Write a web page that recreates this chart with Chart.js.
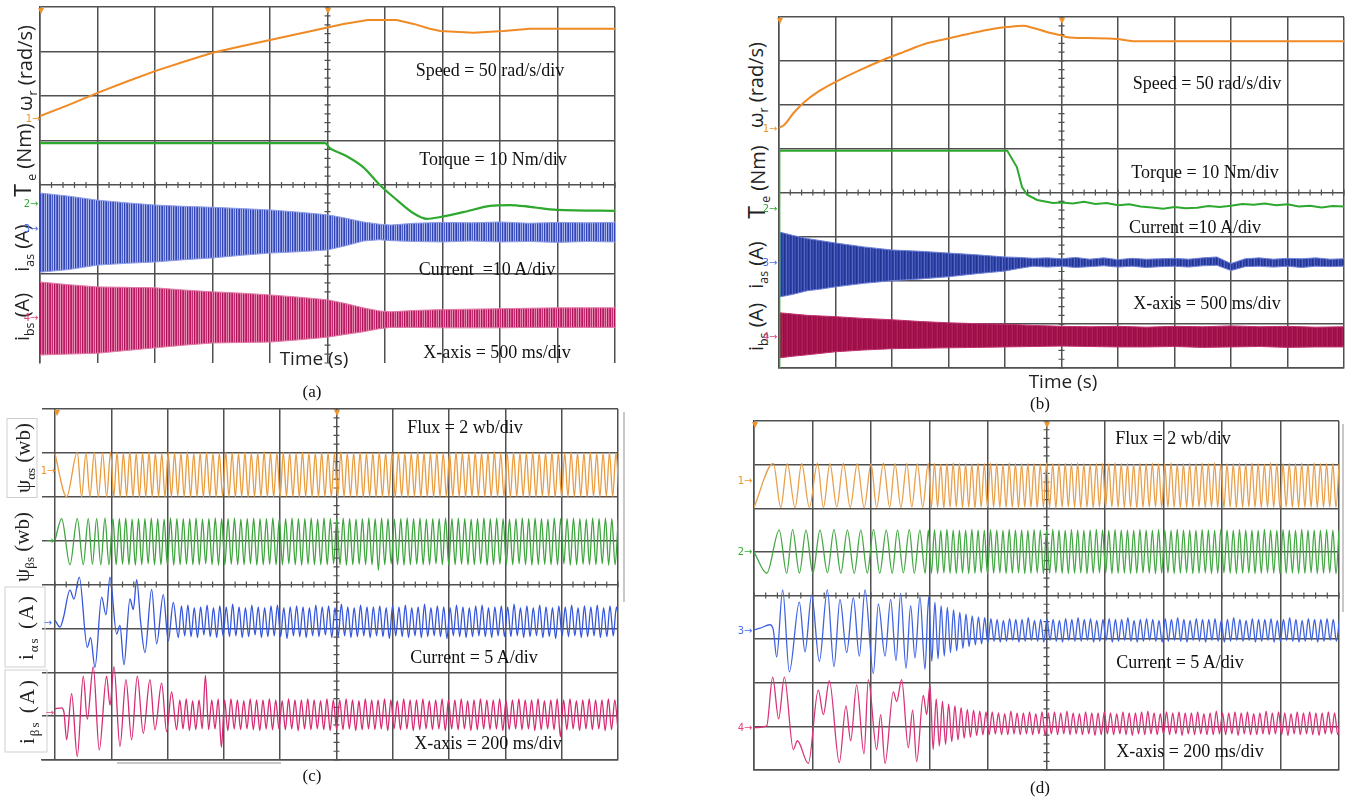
<!DOCTYPE html>
<html>
<head>
<meta charset="utf-8">
<title>Drive waveforms</title>
<script src="https://cdn.jsdelivr.net/npm/chart.js@4.4.1/dist/chart.umd.min.js"></script>
<style>
  body { margin: 0; background: #fff; }
  #page { position: relative; width: 1352px; height: 802px; overflow: hidden; background: #fff; }
  canvas { position: absolute; }
  .note { position: absolute; transform: translate(-50%, -50%); font: 18px 'Liberation Serif', serif; color: #111; white-space: nowrap; }
  .cap { position: absolute; transform: translate(-50%, -50%); font: 17px 'Liberation Serif', serif; color: #111; }
  .time { position: absolute; transform: translate(-50%, -50%); font: 19px 'Open Sans', sans-serif; color: #222; white-space: nowrap; }
  .ylab { position: absolute; transform: translate(-50%, -50%) rotate(-90deg); white-space: nowrap; font: 20px 'Open Sans', sans-serif; color: #222; }
  .ylab sub { font-size: 0.62em; }
  .ylab .big { font-size: 1.15em; }
  .serif { font: 21px 'Liberation Serif', serif; text-align: center; }
  .box { border: 1px solid #cfcfcf; box-sizing: border-box; }
  .mark { position: absolute; transform: translate(-50%, -50%); font: 10px 'DejaVu Sans', sans-serif; white-space: nowrap; }
  .trig { position: absolute; transform: translate(-50%, -50%); font: 12px 'DejaVu Sans', sans-serif; color: #f0932b; }
  .bar { position: absolute; background: #c8c8c8; }
</style>
</head>
<body>
<div id="page">
  <canvas id="cA" width="583" height="364" style="left:36px;top:3px"></canvas>
  <canvas id="cB" width="573" height="359" style="left:775px;top:13px"></canvas>
  <canvas id="cC" width="584" height="359" style="left:38px;top:405px"></canvas>
  <canvas id="cD" width="593" height="357" style="left:750px;top:417px"></canvas>

  <!-- screen frame remnants -->
  <div class="bar" style="left:623px;top:412px;width:2px;height:190px"></div>
  <div class="bar" style="left:1342px;top:424px;width:2px;height:188px"></div>
  <div class="bar" style="left:117px;top:762px;width:164px;height:2px"></div>

  <!-- panel (a) -->
  <div class="ylab" style="left:26px;top:68px">ω<sub>r</sub> (rad/s)</div>
  <div class="ylab" style="left:23px;top:160px"><span class="big">T</span><sub> e</sub> (Nm)</div>
  <div class="ylab" style="left:23px;top:248px">i<sub>as</sub> (A)</div>
  <div class="ylab" style="left:23px;top:317px">i<sub>bs</sub> (A)</div>
  <div class="note" style="left:490px;top:70px">Speed = 50 rad/s/div</div>
  <div class="note" style="left:493px;top:159px">Torque = 10 Nm/div</div>
  <div class="note" style="left:487px;top:269px">Current &nbsp;=10 A/div</div>
  <div class="note" style="left:497px;top:352px">X-axis = 500 ms/div</div>
  <div class="time" style="left:314px;top:358px">Time (s)</div>
  <div class="cap" style="left:312px;top:392px">(a)</div>

  <!-- panel (b) -->
  <div class="ylab" style="left:757px;top:85px">ω<sub>r</sub> (rad/s)</div>
  <div class="ylab" style="left:757px;top:182px"><span class="big">T</span><sub> e</sub> (Nm)</div>
  <div class="ylab" style="left:757px;top:265px">i<sub>as</sub> (A)</div>
  <div class="ylab" style="left:757px;top:327px">i<sub>bs</sub> (A)</div>
  <div class="note" style="left:1207px;top:83px">Speed = 50 rad/s/div</div>
  <div class="note" style="left:1205px;top:172px">Torque = 10 Nm/div</div>
  <div class="note" style="left:1195px;top:227px">Current =10 A/div</div>
  <div class="note" style="left:1207px;top:303px">X-axis = 500 ms/div</div>
  <div class="time" style="left:1063px;top:381px">Time (s)</div>
  <div class="cap" style="left:1040px;top:404px">(b)</div>

  <!-- panel (c) -->
  <div class="ylab serif box" style="left:22px;top:458px;width:80px;height:31px;line-height:31px">ψ<sub>αs</sub> (wb)</div>
  <div class="ylab serif" style="left:22px;top:547px;width:80px;height:31px;line-height:31px">ψ<sub>βs</sub> (wb)</div>
  <div class="ylab serif box" style="left:25px;top:627px;width:81px;height:41px;line-height:41px;letter-spacing:2px">i<sub>αs</sub> (A)</div>
  <div class="ylab serif box" style="left:26px;top:711px;width:83px;height:43px;line-height:43px;letter-spacing:2px">i<sub>βs</sub> (A)</div>
  <div class="note" style="left:465px;top:427px">Flux = 2 wb/div</div>
  <div class="note" style="left:474px;top:657px">Current = 5 A/div</div>
  <div class="note" style="left:488px;top:743px">X-axis = 200 ms/div</div>
  <div class="cap" style="left:312px;top:776px">(c)</div>

  <!-- panel (d) -->
  <div class="note" style="left:1173px;top:438px">Flux = 2 wb/div</div>
  <div class="note" style="left:1180px;top:662px">Current = 5 A/div</div>
  <div class="note" style="left:1190px;top:751px">X-axis = 200 ms/div</div>
  <div class="cap" style="left:1040px;top:788px">(d)</div>

  <!-- channel reference marks and trigger marks -->
  <div class="mark" style="left:33px;top:118px;color:#f0932b">1→</div>
  <div class="mark" style="left:31px;top:203px;color:#33aa33">2→</div>
  <div class="mark" style="left:31px;top:228px;color:#4a6cf0">3→</div>
  <div class="mark" style="left:31px;top:317px;color:#e0447f">4→</div>
  <div class="mark" style="left:770px;top:128px;color:#f0932b">1→</div>
  <div class="mark" style="left:770px;top:208px;color:#33aa33">2→</div>
  <div class="mark" style="left:770px;top:262px;color:#4a6cf0">3→</div>
  <div class="mark" style="left:770px;top:336px;color:#e0447f">4→</div>
  <div class="mark" style="left:48px;top:470px;color:#f0932b">1→</div>
  <div class="mark" style="left:50px;top:540px;color:#33aa33">→</div>
  <div class="mark" style="left:48px;top:622px;color:#4a6cf0">→</div>
  <div class="mark" style="left:50px;top:712px;color:#e0447f">→</div>
  <div class="mark" style="left:745px;top:480px;color:#f0932b">1→</div>
  <div class="mark" style="left:745px;top:551px;color:#33aa33">2→</div>
  <div class="mark" style="left:745px;top:630px;color:#4a6cf0">3→</div>
  <div class="mark" style="left:745px;top:727px;color:#e0447f">4→</div>
  <div class="trig" style="left:41px;top:10px">▾</div>
  <div class="trig" style="left:328px;top:10px">▾</div>
  <div class="trig" style="left:780px;top:20px">▾</div>
  <div class="trig" style="left:1062px;top:20px">▾</div>
  <div class="trig" style="left:57px;top:412px">▾</div>
  <div class="trig" style="left:337px;top:412px">▾</div>
  <div class="trig" style="left:755px;top:424px">▾</div>
  <div class="trig" style="left:1047px;top:424px">▾</div>
</div>

<script>
// ---------- (a) start-up and load step, 500 ms/div ----------
const speedA_t = [0, 0.25, 0.5, 0.75, 1.0, 1.25, 1.5, 1.75, 2.0, 2.25, 2.52, 2.64, 2.85, 3.1, 3.25, 3.39, 3.48, 3.77, 4.03, 4.26, 5.0];
const speedA   = [0, 12.5, 26, 38.5, 50.5, 61, 71, 78.5, 85.5, 92.5, 100, 103.5, 108, 108, 103.5, 98, 95.5, 93.5, 95.5, 98, 98];      // rad/s

const torqueA_t = [0, 2.48, 2.52, 2.65, 2.81, 2.955, 3.105, 3.245, 3.365, 3.48, 3.68, 3.915, 4.085, 4.26, 4.495, 5.0];
const torqueA   = [13.4, 13.4, 12.3, 10.7, 8.0, 4.0, 0.6, -2.3, -3.6, -3.2, -2.1, -0.7, -0.5, -0.9, -1.6, -1.8];                   // Nm

// phase current envelopes (A)
const envA_t    = [0, 0.25, 0.5, 0.75, 1.0, 1.25, 1.5, 1.75, 2.0, 2.25, 2.5, 2.65, 2.81, 2.95, 3.05, 3.25, 3.5, 3.75, 4.0, 4.25, 4.5, 4.75, 5.0];
const iasA_hi   = [7.9, 7.2, 6.3, 5.7, 5.2, 4.9, 4.7, 4.4, 4.1, 3.6, 3.0, 2.3, 1.4, 0.9, 0.7, 1.1, 1.3, 1.2, 1.4, 1.1, 1.3, 1.2, 1.3];
const iasA_lo   = [-9.9, -9.3, -8.3, -7.9, -7.6, -7.1, -6.7, -6.1, -5.6, -5.3, -4.9, -4.0, -2.9, -2.6, -2.8, -3.0, -3.1, -2.9, -3.1, -3.0, -3.2, -3.0, -3.1];
const ibsA_hi   = [7.9, 7.3, 6.8, 6.7, 6.6, 6.1, 5.7, 5.4, 5.0, 4.5, 3.9, 3.1, 2.1, 1.4, 1.2, 1.5, 1.7, 1.8, 1.9, 2.0, 2.1, 2.1, 2.1];
const ibsA_lo   = [-8.5, -8.3, -8.1, -7.5, -6.9, -6.3, -5.8, -5.7, -5.6, -5.1, -4.5, -3.9, -3.3, -2.6, -2.3, -2.3, -2.4, -2.4, -2.4, -2.3, -2.3, -2.3, -2.3];

// ---------- (b) start-up and load step, 500 ms/div ----------
const speedB_t = [0, 0.05, 0.125, 0.215, 0.36, 0.515, 0.715, 0.92, 1.1, 1.31, 1.515, 1.72, 1.9, 2.02, 2.16, 2.25, 2.37, 2.485, 2.55, 2.735, 2.99, 3.135, 5.0];
const speedB   = [0, 4, 16.5, 28.5, 42.5, 53.5, 66, 77.5, 86.5, 96.5, 102.5, 108.5, 113, 115, 116.5, 114, 109.5, 106, 103.5, 102.5, 101.5, 99, 99];

// the torque trace enters from below the screen at switch-on
const torqueB_t = [0, 0.003, 2.02, 2.105, 2.15, 2.195, 2.285, 2.425, 2.5, 2.6, 2.7, 2.8, 2.9, 3.0, 3.1, 3.2, 3.3, 3.4, 3.5, 3.6, 3.7, 3.8, 3.9, 4.0, 4.1, 4.2, 4.3, 4.4, 4.5, 4.6, 4.7, 4.8, 4.9, 5.0];
const torqueB   = [-40, 13, 13, 9.3, 4.8, 3.0, 1.8, 1.1, 1.2, 1.0, 1.4, 0.9, 1.1, 0.6, 0.8, 0.3, 0.1, -0.2, 0.2, -0.1, 0.0, 0.4, 0.2, 0.5, 0.9, 0.7, 1.0, 0.6, 0.8, 0.3, 0.5, 0.1, 0.4, 0.3];

const envBa_t  = [0, 0.05, 0.125, 0.25, 0.375, 0.5, 0.75, 1.0, 1.25, 1.5, 1.75, 2.0, 2.125, 2.25, 2.375, 2.5, 2.625, 2.75, 2.875, 3.0, 3.125, 3.25, 3.375, 3.5, 3.625, 3.75, 3.875, 4.0, 4.125, 4.25, 4.375, 4.5, 4.625, 4.75, 4.875, 5.0];
const iasB_hi  = [6.8, 6.5, 6.0, 5.3, 4.8, 4.3, 3.4, 2.7, 2.4, 2.0, 1.6, 1.1, 1.0, 0.8, 0.9, 0.7, 1.0, 0.6, 0.9, 0.5, 0.8, 0.6, 0.7, 0.8, 0.6, 0.9, 1.1, -0.4, 0.7, 0.9, 0.6, 0.8, 0.7, 0.9, 0.6, 0.7];
const iasB_lo  = [-8.0, -7.8, -7.4, -6.6, -6.2, -5.7, -4.9, -4.3, -3.9, -3.4, -2.7, -2.1, -1.5, -1.0, -1.2, -1.0, -1.3, -1.1, -0.9, -1.2, -1.0, -1.3, -1.1, -1.0, -1.2, -0.9, -0.8, -2.0, -1.1, -1.0, -1.2, -1.0, -1.3, -1.0, -1.1, -1.0];

const envBb_t  = [0, 0.125, 0.25, 0.5, 0.75, 1.0, 1.25, 1.5, 1.75, 2.0, 2.25, 2.5, 2.75, 3.0, 3.25, 3.5, 3.75, 4.0, 4.25, 4.5, 4.75, 5.0];
const ibsB_hi  = [5.5, 5.2, 4.9, 4.6, 4.2, 3.9, 3.5, 3.2, 3.0, 2.9, 2.6, 2.4, 2.3, 2.4, 2.2, 2.4, 2.3, 2.5, 2.3, 2.4, 2.2, 2.3];
const ibsB_lo  = [-4.8, -4.4, -4.1, -3.4, -3.0, -2.7, -2.6, -2.5, -2.4, -2.3, -2.2, -2.1, -2.2, -2.3, -2.3, -2.2, -2.4, -2.3, -2.2, -2.4, -2.3, -2.3];

// ---------- (c) flux and current, 200 ms/div ----------
// start-up: turning points (s, value); steady state: one value per half cycle
const stepC = 0.01136;
const psiAlphaC_t = [0, 0.0415, 0.0793, 0.0947, 0.1101, 0.1243, 0.1397, 0.1539, 0.1693, 0.1835, 0.1977];
const psiAlphaC_v = [0.95, -1.0, 1.02, -1.0, 1.0, -0.98, 1.02, -1.0, 1.0, -1.0, 1.02];
const psiAlphaC_tail = [
  -1.0,
  1.02,-1.0,1.0,-0.98,1.04,-1.0,0.98,-1.02,1.0,-1.0,
  1.03,-0.99,1.0,-1.0,0.99,-1.02,1.02,-1.0,1.0,-0.98,
  1.0,-1.0,1.04,-1.01,0.98,-1.0,1.0,-1.02,1.02,-1.0,
  0.99,-1.0,1.0,-0.98,1.03,-1.0,1.0,-1.01,0.98,-1.0,
  1.02,-1.02,1.0,-1.0,1.0,-0.99,1.04,-1.0,0.99,-1.02,
  1.0,-1.0,1.02,-0.98,1.0,-1.0,0.98,-1.02,1.03,-1.0,
  1.0,-1.0,1.0,-1.01,1.02,-0.99,1.0,-1.0,0.99,-1.02,
  1.04,-1.0,1.0,-0.98,1.0,-1.0,1.02,-1.02,0.98,-1.0,
  1.0,-1.0,1.03,-1.0,1.0,-0.99,1.0,-1.02,1.02,-1.0,
  0.99,-1.0,1.0,-0.98,1.04,-1.01,1.0,-1.0,0.98,-1.02,
  1.02,-1.0,1.0,-1.0,1.0,-0.99,1.03,-1.0,1.0,-1.02,
  0.98,-1.0,1.02,-0.98,1.0,-1.0,1.0,-1.02,1.04,-1.0,
  1.0,-1.0,0.99,-1.01,1.02,-0.99,1.0,-1.0,1.0,-1.02,
  1.03,-1.0,1.0,-0.98,1.0,-1.0,1.02,-1.02,0.98,-1.0,
  1.0,-1.0,1.04,-1.0,1.0,-0.99,1.0,-1.02,1.02,-1.0,
  0.99,-1.0,1.0,-0.98,1.03,-1.01,1.0,-1.0
];
const psiBetaC_t = [0, 0.0238, 0.0533, 0.0793, 0.1006, 0.1184, 0.1332, 0.1481, 0.1628, 0.1776, 0.1918, 0.206];
const psiBetaC_v = [0, 1.0, -1.1, 1.0, -1.1, 1.0, -1.08, 1.0, -1.1, 1.02, -1.1, 1.0];
const psiBetaC_tail = [
  -1.1,1.0,-1.08,1.02,-1.1,0.98,-1.12,1.0,-1.1,1.0,
  -1.06,1.02,-1.1,1.0,-1.1,0.98,-1.1,1.04,-1.12,1.0,
  -1.1,1.0,-1.08,1.0,-1.1,1.02,-1.1,0.98,-1.06,1.0,
  -1.1,1.04,-1.12,1.0,-1.1,1.0,-1.08,1.02,-1.1,0.98,
  -1.1,1.0,-1.06,1.02,-1.12,1.0,-1.1,1.0,-1.08,1.04,
  -1.1,0.98,-1.1,1.0,-1.06,1.02,-1.1,1.0,-1.12,1.0,
  -1.08,1.02,-1.1,0.98,-1.1,1.04,-1.1,1.0,-1.06,1.0,
  -1.1,1.02,-1.12,1.0,-1.1,0.98,-1.08,1.0,-1.1,1.04,
  -1.1,1.0,-1.35,1.02,-1.1,1.0,-1.06,0.98,-1.1,1.0,
  -1.12,1.04,-1.1,1.0,-1.08,1.02,-1.1,0.98,-1.1,1.0,
  -1.06,1.0,-1.1,1.04,-1.12,1.0,-1.1,1.02,-1.08,1.0,
  -1.1,0.98,-1.1,1.0,-1.06,1.04,-1.12,1.0,-1.1,1.02,
  -1.08,1.0,-1.1,0.98,-1.1,1.0,-1.06,1.04,-1.1,1.0,
  -1.12,1.02,-1.1,1.0,-1.08,0.98,-1.1,1.04,-1.1,1.0,
  -1.06,1.0,-1.12,1.02,-1.1,1.0,-1.08,0.98,-1.1,1.04,
  -1.1,1.0,-1.06,1.02,-1.12,1.0,-1.1,1.0
];
const iAlphaC_t = [0, 0.0178, 0.0296, 0.0533, 0.0675, 0.0864, 0.1149, 0.1267, 0.1421, 0.1658, 0.1812, 0.1954, 0.2191, 0.2309, 0.2451, 0.2664, 0.2783, 0.2901, 0.3043, 0.3197, 0.3434, 0.3612, 0.3848, 0.4026, 0.4204, 0.4381];
const iAlphaC_v = [0.2, -0.6, 0.4, 3.6, 2.6, 5.1, -2.9, -1.8, -5.2, 2.8, 0.8, 5.1, -1.4, -0.4, -4.9, 2.6, 1.4, 4.8, 0.0, -3.5, 3.7, -2.5, 3.1, -2.2, 2.2, -1.8];
const iAlphaC_tail = [
  1.8,-1.6,1.9,-1.7,1.6,-1.8,1.7,-1.5,1.9,
  -1.7,1.6,-1.8,1.8,-1.6,1.7,-1.7,2.0,-1.6,1.7,
  -1.8,1.6,-1.7,1.9,-1.5,1.7,-1.8,1.6,-1.7,1.8,
  -1.6,1.9,-1.7,1.6,-1.9,1.7,-1.6,1.8,-1.7,1.7,
  -1.8,1.6,-1.6,1.9,-1.7,1.7,-1.5,1.8,-1.8,1.6,
  -1.7,2.0,-1.6,1.7,-1.8,1.6,-1.7,1.9,-1.6,1.7,
  -1.8,1.7,-1.6,1.8,-1.7,1.6,-1.9,1.8,-1.6,1.7,
  -1.7,1.9,-1.8,1.6,-1.6,1.7,-1.8,2.0,-1.7,1.6,
  -1.6,1.8,-1.7,1.7,-1.9,1.6,-1.6,1.9,-1.7,1.7,
  -1.8,1.6,-1.7,1.8,-1.6,1.9,-1.7,1.6,-1.8,1.7,
  -1.6,1.8,-1.7,1.7,-1.7,2.0,-1.6,1.6,-1.8,1.8,
  -1.7,1.6,-1.6,1.9,-1.8,1.7,-1.7,1.6,-1.9,1.8,
  -1.6,1.7,-1.7,1.9,-1.6,1.6,-1.8,1.8,-1.7,1.7,
  -1.6,1.9,-1.8,1.6,-1.7,1.8,-1.6,1.7,-1.7
];
const iBetaC_t = [0, 0.0237, 0.032, 0.0415, 0.0592, 0.0793, 0.1006, 0.1149, 0.136, 0.1574, 0.1835, 0.1954, 0.2096, 0.2309, 0.2522, 0.2723, 0.2925, 0.3138, 0.3375, 0.3552, 0.3789, 0.3967, 0.4144, 0.4322];
const iBetaC_v = [0.6, 0.7, 0.2, -2.95, 2.3, -4.85, 4.3, -0.6, 5.4, -4.1, 4.3, 1.0, 5.4, -3.7, 3.9, -2.95, 4.3, -2.2, 3.9, -1.8, 3.5, -2.0, 2.5, -1.8];
const iBetaC_tail = [
  1.6,-1.7,1.7,-1.9,1.5,-1.8,1.6,-1.7,4.4,
  -1.8,1.6,-1.7,1.7,-3.8,1.6,-1.9,1.7,-1.7,1.6,
  -1.8,1.5,-1.7,1.7,-1.8,1.6,-1.9,1.6,-1.7,1.7,
  -1.8,1.6,-1.7,1.5,-1.8,1.7,-1.7,1.6,-1.9,1.6,
  -1.7,1.7,-1.8,1.6,-1.7,1.5,-1.8,1.7,-1.9,1.6,
  -1.7,1.6,-1.8,1.7,-1.7,1.6,-1.9,1.5,-1.8,1.7,
  -1.7,1.6,-1.8,1.6,-1.7,1.7,-1.9,1.6,-1.7,1.5,
  -1.8,1.7,-1.7,1.6,-1.9,1.6,-1.8,1.7,-1.7,1.5,
  -1.8,1.6,-1.7,1.7,-1.9,1.6,-1.7,1.6,-1.8,1.7,
  -1.7,1.5,-1.9,1.6,-1.8,1.7,-1.7,1.6,-1.8,1.6,
  -1.7,1.7,-1.9,1.5,-1.8,1.6,-1.7,1.7,-1.8,1.6,
  -1.7,1.6,-1.9,1.7,-1.8,1.5,-1.7,1.6,-1.8,1.7,
  -2.6,1.6,-1.8,1.7,-1.7,1.5,-1.9,1.6,-1.7,1.7,
  -1.8,1.6,-1.7,1.6,-1.9,1.7,-1.8,1.6,-1.8
];

// ---------- (d) flux and current, 200 ms/div ----------
const stepD = 0.01064;
const psiAlphaD_t = [0, 0.066, 0.0915, 0.1138, 0.1404, 0.1628, 0.1894, 0.2171, 0.2373, 0.2596, 0.283, 0.3054, 0.3288, 0.3532, 0.3767, 0.4001, 0.4192, 0.4426, 0.4639, 0.482, 0.5022, 0.5224, 0.5394, 0.5586, 0.5767, 0.5958];
const psiAlphaD_v = [-1.0, 1.02, -1.0, 1.0, -1.02, 1.0, -1.0, 1.03, -1.0, 1.0, -0.98, 1.02, -1.0, 1.0, -1.02, 1.0, -1.0, 1.03, -1.0, 1.0, -1.0, 1.02, -0.98, 1.0, -1.0, 1.02];
const psiAlphaD_tail = [
  -1.0,1.02,-1.0,0.98,-1.03,1.0,-1.0,1.04,-0.98,1.0,
  -1.02,1.0,-1.0,0.99,-1.04,1.02,-1.0,1.0,-0.98,1.03,
  -1.0,1.0,-1.02,0.98,-1.0,1.04,-1.0,1.0,-1.03,1.0,
  -0.99,1.02,-1.0,1.0,-1.02,0.98,-1.0,1.03,-1.0,1.0,
  -1.04,1.0,-1.0,1.02,-0.98,1.0,-1.0,1.04,-1.02,1.0,
  -1.0,0.98,-1.03,1.0,-1.0,1.02,-1.0,1.0,-0.98,1.04,
  -1.0,1.0,-1.02,1.0,-1.0,0.98,-1.04,1.02,-1.0,1.0,
  -1.0,1.03,-0.98,1.0,-1.02,1.0,-1.0,1.04,-1.0,0.98,
  -1.03,1.0,-1.0,1.02,-1.0,1.0,-0.98,1.03,-1.02,1.0,
  -1.0,1.04,-1.0,0.98,-1.02,1.0,-1.0,1.0,-1.04,1.02,
  -1.0,1.0,-0.98,1.03,-1.0,1.0,-1.02,0.98,-1.0,1.04,
  -1.0,1.0,-1.03,1.0,-0.98,1.02,-1.0,1.0,-1.02,1.03,
  -1.0,0.98,-1.0,1.04,-1.02,1.0,-1.0,1.0,-0.99,1.02,
  -1.0,1.0
];
const psiBetaD_t = [0, 0.0436, 0.0862, 0.1117, 0.1319, 0.1553, 0.1777, 0.2011, 0.2256, 0.2511, 0.2734, 0.2969, 0.3192, 0.3426, 0.365, 0.3873, 0.4086, 0.4299, 0.4522, 0.4724, 0.4905, 0.5107, 0.5309, 0.548, 0.5671, 0.5852];
const psiBetaD_v = [0, -0.98, 1.0, -0.98, 1.02, -0.97, 1.0, -0.98, 1.0, -0.96, 1.02, -0.98, 1.0, -0.98, 1.0, -0.97, 1.02, -0.98, 1.0, -0.98, 1.0, -0.96, 1.02, -0.98, 1.0, -0.98];
const psiBetaD_tail = [
  1.0,-0.98,1.02,-1.0,0.98,-0.96,1.03,-0.98,1.0,-1.0,
  0.98,-0.97,1.0,-1.0,1.03,-0.98,1.0,-0.96,0.99,-1.0,
  1.02,-0.98,1.0,-0.97,0.98,-1.0,1.03,-0.98,1.0,-0.96,
  1.0,-1.0,0.98,-0.98,1.02,-0.97,1.0,-1.0,0.99,-0.98,
  1.03,-0.96,1.0,-0.98,0.98,-1.0,1.02,-0.98,1.0,-0.97,
  0.99,-1.0,1.0,-0.98,1.03,-0.96,1.0,-0.98,0.98,-1.0,
  1.02,-0.98,1.0,-0.97,1.0,-1.0,0.98,-0.98,1.03,-0.96,
  1.0,-0.98,0.99,-1.0,1.02,-0.98,1.0,-0.97,0.98,-1.0,
  1.03,-0.98,1.0,-0.96,1.0,-1.0,0.98,-0.98,1.02,-0.97,
  1.0,-1.0,0.99,-0.98,1.03,-0.96,1.0,-0.98,0.98,-1.0,
  1.02,-0.98,1.0,-0.97,1.0,-1.0,0.98,-0.98,1.03,-0.96,
  1.0,-0.98,0.99,-1.0,1.02,-0.98,1.0,-0.97,0.98,-1.0,
  1.03,-0.98,1.0,-0.96,1.0,-1.0,0.98,-0.98,1.02,-0.97,
  1.0,-1.0,1.0
];
const iAlphaD_t = [0, 0.0205, 0.0547, 0.066, 0.0775, 0.098, 0.1208, 0.155, 0.1744, 0.1972, 0.2234, 0.2507, 0.2735, 0.294, 0.3168, 0.3396, 0.3601, 0.3795, 0.408, 0.4251, 0.4479, 0.4672, 0.4855, 0.5014, 0.5197, 0.5356, 0.5504, 0.5675, 0.5846, 0.5972];
const iAlphaD_v = [0, 0.2, 0.6, 0.0, -3.1, 4.6, -4.8, 3.2, -2.5, 4.0, -3.6, 4.6, -4.2, 3.5, -2.6, 3.7, -3.0, 4.6, -5.0, 3.0, -3.0, 3.5, -3.5, 4.2, -4.4, 2.8, -3.2, 3.8, -4.5, 3.8];
const iAlphaD_tail = [
  -3.6,3.2,-3.3,2.8,-3.0,2.6,-2.6,2.3,-2.4,2.0,
  -2.1,1.8,-1.9,1.6,-1.7,1.5,-1.6,1.4,-1.5,
  1.3,-1.3,1.2,-1.4,1.1,-1.3,1.3,-1.2,1.2,-1.4,
  1.2,-1.3,1.4,-1.2,1.1,-1.3,1.2,-1.4,1.3,-1.2,
  1.2,-1.3,1.1,-1.4,1.3,-1.2,1.2,-1.3,1.4,-1.3,
  1.2,-1.2,1.3,-1.4,1.1,-1.3,1.2,-1.2,1.3,-1.4,
  1.2,-1.3,1.2,-1.2,1.4,-1.3,1.1,-1.4,1.2,-1.3,
  1.3,-1.2,1.2,-1.3,1.1,-1.4,1.3,-1.3,1.2,-1.2,
  1.4,-1.3,1.2,-1.4,1.1,-1.2,1.3,-1.3,1.2,-1.4,
  1.2,-1.2,1.3,-1.3,1.1,-1.4,1.2,-1.3,1.4,-1.2,
  1.2,-1.3,1.1,-1.2,1.3,-1.4,1.2,-1.3,1.2,-1.2,
  1.3,-1.4,1.1,-1.3,1.2,-1.2,1.4,-1.3,1.2,-1.4,
  1.1,-1.3,1.3,-1.2,1.2,-1.4,1.2,-1.3,1.3,-1.2,
  1.2,-1.3,1.2
];
const iBetaD_t = [0, 0.0433, 0.0638, 0.0843, 0.1037, 0.1345, 0.1481, 0.1857, 0.2199, 0.237, 0.2575, 0.2917, 0.3145, 0.3305, 0.351, 0.3761, 0.3909, 0.4194, 0.4331, 0.4479, 0.4764, 0.4877, 0.5048, 0.5276, 0.5424, 0.5561, 0.5789, 0.5903, 0.6017];
const iBetaD_v = [-0.5, -0.3, 5.3, 0.5, 5.3, -3.0, -2.0, -4.6, 3.8, 1.0, 4.9, -4.5, 2.0, -2.0, 4.4, -3.5, 5.0, -3.0, 1.0, -4.6, 3.6, 2.5, 5.0, -2.8, 1.5, -4.4, 3.2, 1.0, 4.4];
const iBetaD_tail = [
  -3.0,2.8,-2.6,2.5,-2.4,2.2,-2.1,2.0,-1.9,1.8,
  -1.7,1.6,-1.6,1.5,-1.4,1.4,-1.3,1.3,-1.3,
  1.3,-1.2,1.2,-1.3,1.1,-1.3,1.4,-1.2,1.2,-1.3,
  1.2,-1.2,1.3,-1.3,1.1,-1.2,1.3,-1.4,1.2,-1.2,
  1.3,-1.3,1.2,-1.2,1.4,-1.3,1.2,-1.2,1.1,-1.3,
  1.3,-1.2,1.2,-1.4,1.2,-1.3,1.3,-1.2,1.2,-1.3,
  1.1,-1.2,1.3,-1.3,1.2,-1.4,1.2,-1.2,1.3,-1.3,
  1.4,-1.2,1.2,-1.3,1.1,-1.2,1.3,-1.3,1.2,-1.2,
  1.3,-1.4,1.2,-1.2,1.2,-1.3,1.3,-1.2,1.1,-1.3,
  1.2,-1.3,1.4,-1.2,1.2,-1.3,1.2,-1.2,1.3,-1.4,
  1.2,-1.2,1.3,-1.3,1.1,-1.3,1.2,-1.2,1.4,-1.3,
  1.2,-1.2,1.3,-1.3,1.2,-1.4,1.1,-1.2,1.3,-1.3,
  1.2,-1.2,1.3,-1.3,1.2,-1.4,1.2,-1.2,1.3,-1.2,
  1.2,-1.3,1.3
];

// ---------- drawing ----------
const GRID = '#505050';

function pairs(t, v) { return t.map((x, i) => ({ x, y: v[i] })); }

// turning points first, then the steady part continues one half cycle per value
function trace(t, v, tail, dt) {
  const pts = pairs(t, v);
  const t0 = t[t.length - 1];
  tail.forEach((y, k) => pts.push({ x: t0 + (k + 1) * dt, y }));
  return pts;
}

// one hidden y axis per channel: zero position (divisions from the bottom) and units per division
function chan(zeroDiv, perDiv) {
  return { display: false, min: -zeroDiv * perDiv, max: (8 - zeroDiv) * perDiv };
}

function stripes(canvasId, cols) {
  const c = document.createElement('canvas');
  c.width = cols.length; c.height = 2;
  const g = c.getContext('2d');
  cols.forEach((col, i) => { g.fillStyle = col; g.fillRect(i, 0, 1, 2); });
  return document.getElementById(canvasId).getContext('2d').createPattern(c, 'repeat');
}

// small division marks along the two centre lines
const centreTicks = {
  id: 'centreTicks',
  beforeDatasetsDraw(chart, args, o) {
    const { ctx } = chart;
    const xs = chart.scales.x, ys = chart.scales.yGrid;
    const cx = xs.getPixelForValue(o.xMid);
    const cy = ys.getPixelForValue(4);
    ctx.save();
    ctx.strokeStyle = GRID;
    ctx.lineWidth = 1.2;
    ctx.beginPath();
    for (let k = 0; k <= 40; k++) {
      const py = ys.getPixelForValue(k / 5);
      ctx.moveTo(cx - 3, py); ctx.lineTo(cx + 3, py);
    }
    for (let k = 0; k <= 50; k++) {
      const px = xs.getPixelForValue(k * o.xDiv / 5);
      ctx.moveTo(px, cy - 3); ctx.lineTo(px, cy + 3);
    }
    ctx.stroke();
    ctx.restore();
  }
};

function scope(id, cfg) {
  const gridLine = { lineWidth: 1.5, drawTicks: false };
  const scales = {
    x: {
      type: 'linear', min: cfg.xMin, max: cfg.xDiv * 10,
      ticks: { display: false },
      afterBuildTicks: s => {
        const t = [{ value: cfg.xMin }];
        for (let k = 0; k <= 10; k++) if (k * cfg.xDiv > cfg.xMin) t.push({ value: k * cfg.xDiv });
        s.ticks = t;
      },
      grid: Object.assign({}, gridLine, {
        color: c => (cfg.noLeft && c.tick && c.tick.value === cfg.xMin) ? 'rgba(0,0,0,0)' : GRID
      }),
      border: { display: !cfg.noBottom, color: GRID, width: 1.5 }
    },
    yGrid: {
      type: 'linear', position: 'left', min: 0, max: 8,
      ticks: { display: false, stepSize: 1 },
      grid: Object.assign({}, gridLine, {
        color: c => (cfg.noBottom && c.tick && c.tick.value === 0) ? 'rgba(0,0,0,0)' : GRID
      }),
      border: { display: !cfg.noLeft, color: GRID, width: 1.5 }
    }
  };
  Object.assign(scales, cfg.channels);
  return new Chart(document.getElementById(id), {
    type: 'line',
    data: { datasets: cfg.datasets },
    options: {
      responsive: false, animation: false, devicePixelRatio: 1,
      layout: { padding: 4 },
      elements: { point: { radius: 0 }, line: { borderWidth: 1.3 } },
      plugins: {
        legend: { display: false }, tooltip: { enabled: false },
        centreTicks: { xMid: cfg.xDiv * 5, xDiv: cfg.xDiv }
      },
      scales
    },
    plugins: [centreTicks]
  });
}

function band(t, hi, lo, axis, edge, fillPattern) {
  return [
    { data: pairs(t, hi), yAxisID: axis, borderColor: edge, borderWidth: 1, fill: false },
    { data: pairs(t, lo), yAxisID: axis, borderColor: edge, borderWidth: 1, fill: '-1', backgroundColor: fillPattern }
  ];
}

const smooth = { cubicInterpolationMode: 'monotone' };

// (a)
scope('cA', {
  xMin: 0, xDiv: 0.5, noBottom: true,
  channels: { ySpeed: chan(5.55, 50), yTorque: chan(3.6, 10), yIa: chan(3.03, 10), yIb: chan(1.03, 10) },
  datasets: [
    { data: pairs(speedA_t, speedA), yAxisID: 'ySpeed', borderColor: '#f08a24', borderWidth: 2 },
    { data: pairs(torqueA_t, torqueA), yAxisID: 'yTorque', borderColor: '#2ea82e', borderWidth: 2.2, ...smooth },
    ...band(envA_t, iasA_hi, iasA_lo, 'yIa', '#8d9ce6',
      stripes('cA', ['#3347b5', '#9aa6e6', '#4a5ccc', '#b4bdf0', '#2f42ad', '#8f9de3', '#5869cf'])),
    ...band(envA_t, ibsA_hi, ibsA_lo, 'yIb', '#e07aa6',
      stripes('cA', ['#b81d64', '#e47aa7', '#c42a70', '#eb95b9', '#a91558', '#df6c9e', '#c63574']))
  ]
});

// (b)
scope('cB', {
  xMin: 0, xDiv: 0.5,
  channels: { ySpeed: chan(5.47, 50), yTorque: chan(3.65, 10), yIa: chan(2.42, 10), yIb: chan(0.71, 10) },
  datasets: [
    { data: pairs(speedB_t, speedB), yAxisID: 'ySpeed', borderColor: '#f08a24', borderWidth: 2, ...smooth },
    { data: pairs(torqueB_t, torqueB), yAxisID: 'yTorque', borderColor: '#2ea82e', borderWidth: 2 },
    ...band(envBa_t, iasB_hi, iasB_lo, 'yIa', '#6f82d8',
      stripes('cB', ['#26399d', '#3147ad', '#3b50b5', '#22348f', '#2e43a6', '#5568c4'])),
    ...band(envBb_t, ibsB_hi, ibsB_lo, 'yIb', '#c0306e',
      stripes('cB', ['#9e0f48', '#a8164f', '#b0205a', '#970c43', '#a51250']))
  ]
});

// (c)
scope('cC', {
  xMin: -0.046, xDiv: 0.2, noLeft: true,
  channels: { yPa: chan(6.5, 2), yPb: chan(5.0, 2), yIa: chan(3.15, 5), yIb: chan(1.05, 5) },
  datasets: [
    { data: trace(psiAlphaC_t, psiAlphaC_v, psiAlphaC_tail, stepC), yAxisID: 'yPa', borderColor: '#e99b3d', ...smooth },
    { data: trace(psiBetaC_t, psiBetaC_v, psiBetaC_tail, stepC), yAxisID: 'yPb', borderColor: '#3ea43e', ...smooth },
    { data: trace(iAlphaC_t, iAlphaC_v, iAlphaC_tail, stepC), yAxisID: 'yIa', borderColor: '#3556dc', ...smooth },
    { data: trace(iBetaC_t, iBetaC_v, iBetaC_tail, stepC), yAxisID: 'yIb', borderColor: '#d62a72', ...smooth }
  ]
});

// (d)
scope('cD', {
  xMin: 0, xDiv: 0.2,
  channels: { yPa: chan(6.52, 2), yPb: chan(5.0, 2), yIa: chan(3.21, 5), yIb: chan(1.07, 5) },
  datasets: [
    { data: trace(psiAlphaD_t, psiAlphaD_v, psiAlphaD_tail, stepD), yAxisID: 'yPa', borderColor: '#e9a04c', ...smooth },
    { data: trace(psiBetaD_t, psiBetaD_v, psiBetaD_tail, stepD), yAxisID: 'yPb', borderColor: '#45a845', ...smooth },
    { data: trace(iAlphaD_t, iAlphaD_v, iAlphaD_tail, stepD), yAxisID: 'yIa', borderColor: '#3f63e0', ...smooth },
    { data: trace(iBetaD_t, iBetaD_v, iBetaD_tail, stepD), yAxisID: 'yIb', borderColor: '#d8337a', ...smooth }
  ]
});
</script>
</body>
</html>
